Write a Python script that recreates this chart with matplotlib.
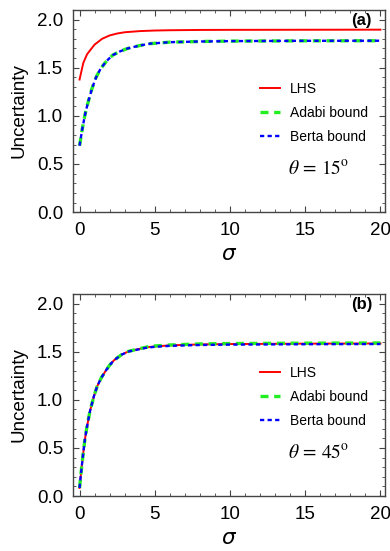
import matplotlib
matplotlib.use('Agg')
import matplotlib.pyplot as plt
from matplotlib.ticker import MultipleLocator

plt.rcParams['font.family'] = ['Liberation Sans', 'DejaVu Sans']

# panel (a): theta = 15 deg
sig_a_lhs = [0, 0.25, 0.5, 0.75, 1.0, 1.5, 2.0, 2.5, 3.0, 4.0, 5.0, 6.0, 8.0, 10.0, 15.0, 20.0]
lhs_a = [1.377, 1.55, 1.64, 1.69, 1.74, 1.80, 1.835, 1.855, 1.868, 1.880, 1.886, 1.889, 1.892, 1.893, 1.894, 1.895]
sig_a_bnd = [0, 0.2, 0.4, 0.6, 0.84, 1.1, 1.4, 1.8, 2.2, 2.7, 3.2, 4.0, 4.7, 6.0, 8.0, 10.0, 15.0, 20.0]
adabi_a = [0.69, 0.88, 1.04, 1.16, 1.29, 1.40, 1.49, 1.57, 1.63, 1.67, 1.70, 1.73, 1.75, 1.765, 1.772, 1.776, 1.779, 1.780]
berta_a = [0.69, 0.88, 1.04, 1.16, 1.29, 1.40, 1.49, 1.57, 1.63, 1.67, 1.70, 1.73, 1.75, 1.765, 1.772, 1.776, 1.779, 1.780]

# panel (b): theta = 45 deg
sig_b = [0, 0.12, 0.24, 0.35, 0.47, 0.69, 0.95, 1.17, 1.45, 1.73, 2.0, 2.28, 2.8, 3.28, 4.0, 4.5, 5.0, 6.0, 8.0, 10.0, 15.0, 20.0]
lhs_b = [0.084, 0.27, 0.44, 0.58, 0.70, 0.88, 1.035, 1.14, 1.23, 1.30, 1.36, 1.41, 1.47, 1.505, 1.53, 1.547, 1.555, 1.566, 1.576, 1.580, 1.584, 1.586]
adabi_b = [0.084, 0.27, 0.44, 0.58, 0.70, 0.88, 1.035, 1.14, 1.23, 1.30, 1.36, 1.41, 1.47, 1.505, 1.532, 1.550, 1.560, 1.570, 1.581, 1.585, 1.589, 1.591]
berta_b = [0.084, 0.27, 0.44, 0.58, 0.70, 0.88, 1.035, 1.14, 1.23, 1.30, 1.36, 1.41, 1.47, 1.503, 1.527, 1.543, 1.551, 1.561, 1.570, 1.574, 1.578, 1.580]

panels = [
    ('(a)', r'$\theta\,=\,15^{\rm o}$', sig_a_lhs, lhs_a, sig_a_bnd, adabi_a, berta_a),
    ('(b)', r'$\theta\,=\,45^{\rm o}$', sig_b, lhs_b, sig_b, adabi_b, berta_b),
]

fig = plt.figure(figsize=(3.9, 5.51), dpi=100)
rects = [[0.187, 0.615, 0.800, 0.367], [0.187, 0.0998, 0.800, 0.3666]]

for rect, (tag, theta, sx, lhs, sb, adabi, berta) in zip(rects, panels):
    ax = fig.add_axes(rect)
    ax.plot(sx, lhs, color='#ff0000', lw=1.4, label='LHS')
    ax.plot(sb, adabi, color='#22ee22', lw=2.4, dashes=(2.4, 1.7), label='Adabi bound')
    ax.plot(sb, berta, color='#0000ff', lw=1.7, dashes=(1.8, 1.4), label='Berta bound')

    ax.set_xlim(-0.44, 20.3)
    ax.set_ylim(0, 2.1)
    ax.xaxis.set_major_locator(MultipleLocator(5))
    ax.xaxis.set_minor_locator(MultipleLocator(1))
    ax.yaxis.set_major_locator(MultipleLocator(0.5))
    ax.yaxis.set_minor_locator(MultipleLocator(0.1))
    ax.tick_params(which='both', direction='in', top=True, right=True, color='#444444')
    ax.tick_params(which='major', length=4, width=0.8, labelsize=13.5, pad=7)
    ax.tick_params(which='minor', length=2, width=0.6)
    for sp in ax.spines.values():
        sp.set_color('#444444')
        sp.set_linewidth(1.0)

    ax.set_ylabel('Uncertainty', fontsize=13.5, labelpad=7)
    ax.set_xlabel(r'$\sigma$', fontsize=15.5, labelpad=4)

    ax.legend(loc='upper left', bbox_to_anchor=(0.60, 0.645), frameon=False,
              fontsize=10, handlelength=1.4, handletextpad=0.75, labelspacing=0.72,
              borderpad=0, borderaxespad=0)
    ax.text(0.925, 0.95, tag, transform=ax.transAxes, fontsize=12, fontweight='bold',
            ha='center', va='center')
    ax.text(0.69, 0.21, theta, transform=ax.transAxes, fontsize=14,
            math_fontfamily='stix', ha='left', va='center')

fig.savefig('out.png', dpi=100)
